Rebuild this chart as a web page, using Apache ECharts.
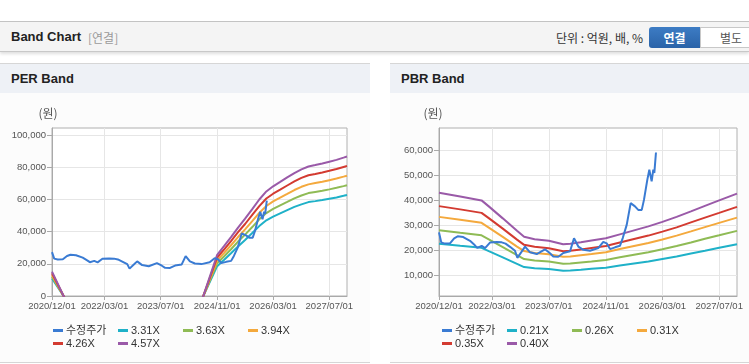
<!DOCTYPE html>
<html><head><meta charset="utf-8">
<script src="https://cdn.jsdelivr.net/npm/echarts@6/dist/echarts.min.js"></script>
<style>
html,body{margin:0;padding:0;width:749px;height:364px;overflow:hidden;background:#fff;font-family:"Liberation Sans","Noto Sans CJK KR",sans-serif;}
.abs{position:absolute;}
#topline{left:0;top:21px;width:749px;height:1px;background:#c4c4c4;}
#bar{left:0;top:22px;width:749px;height:29px;background:#f4f4f4;border-bottom:1px solid #c8c8c8;box-shadow:0 2px 3px rgba(0,0,0,0.13);}
#title{left:11px;top:29px;font-size:13px;font-weight:bold;color:#222;line-height:16px;}
#sub{left:88px;top:30px;font-size:12px;color:#9a9a9a;line-height:15px;font-family:"Noto Sans CJK KR",sans-serif;}
#unit{right:106px;top:30px;font-size:12px;color:#333;line-height:15px;font-family:"Noto Sans CJK KR",sans-serif;}
#btn1{left:649px;top:27px;width:51px;height:21px;background:linear-gradient(#3d7cc4,#2a63a8);border-radius:3px 0 0 3px;color:#fff;font-weight:bold;font-size:12px;line-height:21px;text-align:center;font-family:"Noto Sans CJK KR",sans-serif;}
#btn2{left:700px;top:27px;width:60px;height:19px;background:#fff;border:1px solid #c8c8c8;color:#555;font-size:12px;line-height:19px;text-align:center;font-family:"Noto Sans CJK KR",sans-serif;}
.panel{top:63px;height:298px;background:#fcfcfc;border-top:1px solid #d6d6d6;border-bottom:1px solid #d6d6d6;}
.phead{left:0;top:0;right:0;height:29px;background:#eef1f6;}
.ptitle{left:11px;top:7px;font-size:13px;font-weight:bold;color:#222;line-height:16px;}
#chart{left:0;top:0;width:749px;height:364px;}
</style>
</head><body>
<div id="topline" class="abs"></div>
<div id="bar" class="abs"></div>
<div id="title" class="abs">Band Chart</div>
<div id="sub" class="abs">[연결]</div>
<div id="unit" class="abs">단위 : 억원, 배, %</div>
<div id="btn1" class="abs">연결</div>
<div id="btn2" class="abs">별도</div>
<div class="abs panel" style="left:0;width:370px;"><div class="abs phead"></div><div class="abs ptitle">PER Band</div></div>
<div class="abs panel" style="left:390px;width:359px;"><div class="abs phead"></div><div class="abs ptitle">PBR Band</div></div>
<div id="chart" class="abs"></div>
<script>
// ---------- data ----------
const xMinDate = '2020-12-01';
const xMaxDate = '2027-12-01';
const xTickDates = ['2020-12-01','2022-03-01','2023-07-01','2024-11-01','2026-03-01','2027-07-01'];
const perYTicks = [0, 20000, 40000, 60000, 80000, 100000];
const pbrYTicks = [10000, 20000, 30000, 40000, 50000, 60000];

const priceDates = ['2020-12-01','2020-12-20','2021-01-20','2021-03-05','2021-04-10','2021-05-10','2021-06-27','2021-08-24','2021-10-05','2021-10-25','2021-12-02','2021-12-31','2022-02-11','2022-04-10','2022-05-23','2022-06-25','2022-08-02','2022-09-14','2022-10-04','2022-11-10','2022-12-09','2023-01-21','2023-03-19','2023-05-29','2023-07-11','2023-08-08','2023-09-20','2023-11-02','2023-12-30','2024-02-02','2024-03-10','2024-04-22','2024-06-18','2024-08-28','2024-10-10','2024-11-08','2024-12-07','2025-01-19','2025-03-02','2025-03-26','2025-04-29','2025-06-02','2025-07-09','2025-08-06','2025-09-05','2025-09-24','2025-10-23','2025-11-09','2025-11-29','2025-12-13','2025-12-22','2026-01-05'];
const priceValues = [27200,23200,22700,22800,24800,25600,25300,23800,22000,21000,21800,20900,23100,23300,23200,22700,21400,19800,17000,19500,21500,19200,18500,20400,18800,17500,17400,18900,19600,24800,21500,20200,19800,20900,23400,22800,20500,21200,21800,24900,30200,38900,37600,36200,36200,40200,48300,52300,47600,52300,51000,59200];

const perDates = ['2020-12-01','2021-12-01','2022-12-01','2023-12-01','2024-05-01','2024-11-01','2025-01-01','2025-03-01','2025-05-01','2025-07-01','2025-09-01','2025-11-01','2026-01-01','2026-03-01','2026-05-01','2026-07-01','2026-09-01','2026-11-01','2027-01-01','2027-03-01','2027-05-01','2027-07-01','2027-09-01','2027-11-01','2027-12-01'];
const per331 = [10900,-28800,-31400,-21500,-9900,18500,22500,26500,30800,34800,39100,43400,47000,49300,51300,53300,55300,56900,58300,58900,59600,60400,61200,62200,62700];
const per363 = [12000,-31600,-34500,-23600,-10900,20300,24700,29000,33800,38100,42800,47600,51500,54100,56300,58400,60600,62400,63900,64600,65300,66200,67200,68200,68800];
const per394 = [13000,-34300,-37400,-25600,-11800,22100,26800,31500,36600,41400,46500,51600,55900,58700,61100,63400,65800,67800,69300,70100,70900,71900,72900,74100,74700];
const per426 = [14100,-37100,-40500,-27700,-12800,23900,29000,34100,39600,44700,50300,55800,60500,63500,66000,68600,71100,73300,75000,75800,76700,77700,78800,80100,80700];
const per457 = [15100,-39800,-43400,-29700,-13700,25600,31100,36600,42500,48000,53900,59900,64900,68100,70800,73600,76300,78600,80400,81300,82300,83400,84500,85900,86600];

const pbrDates = ['2020-12-01','2021-06-01','2021-12-01','2022-02-01','2022-06-01','2022-10-01','2022-12-01','2023-03-01','2023-07-01','2023-11-01','2024-01-01','2024-04-01','2024-07-01','2024-11-01','2025-03-01','2025-07-01','2025-11-01','2026-03-01','2026-07-01','2026-11-01','2027-03-01','2027-07-01','2027-12-01'];
const pbr021 = [22600,21800,21000,19700,17200,14600,13300,12800,12500,11800,11900,12200,12600,13000,13900,14700,15500,16500,17500,18700,19800,21000,22400];
const pbr026 = [28000,27000,26000,24400,21300,18100,16500,15900,15500,14600,14700,15100,15500,16100,17200,18200,19200,20400,21700,23100,24600,26000,27800];
const pbr031 = [33400,32200,31000,29100,25400,21500,19700,18900,18400,17400,17500,18000,18500,19200,20500,21700,22900,24300,25900,27600,29300,31000,33100];
const pbr035 = [37700,36400,35000,32900,28700,24300,22200,21400,20800,19600,19800,20300,20900,21700,23100,24500,25900,27500,29200,31200,33100,35000,37400];
const pbr040 = [43100,41600,40000,37600,32800,27800,25400,24400,23800,22400,22600,23200,23900,24800,26400,28000,29600,31400,33400,35600,37800,40000,42700];

const perNames = ['3.31X','3.63X','3.94X','4.26X','4.57X'];
const pbrNames = ['0.21X','0.26X','0.31X','0.35X','0.40X'];
const priceName = '수정주가';

// ---------- styling ----------
const bandColors = ['#1fb1c8','#8fbb55','#f4a93d','#d33b31','#9a5aa8'];
const priceColor = '#3a7bd3';
const FONT = '"Liberation Sans","Noto Sans CJK KR",sans-serif';

function ts(s){ const p = s.split('-'); return Date.UTC(+p[0], +p[1]-1, +p[2]); }
function pad(n){ return (n<10?'0':'')+n; }
function fmtDate(v){ const d = new Date(v); return d.getUTCFullYear()+'/'+pad(d.getUTCMonth()+1)+'/'+pad(d.getUTCDate()); }
function fmtNum(v){ return String(Math.round(v)).replace(/\B(?=(\d{3})+(?!\d))/g, ','); }
function zip(dates, vals){ return dates.map((d,i)=>[ts(d), vals[i]]); }

const xTickVals = xTickDates.map(ts);

function xAxis(gi){
  return {
    type:'value', gridIndex:gi, min:ts(xMinDate), max:ts(xMaxDate), scale:true,
    axisLine:{show:true, onZero:false, lineStyle:{color:'#a9a9a9', width:1}},
    axisTick:{show:true, length:4, customValues:xTickVals, lineStyle:{color:'#a9a9a9'}},
    axisLabel:{customValues:xTickVals, formatter:fmtDate, fontSize:9.5, color:'#555', margin:6, fontFamily:FONT, hideOverlap:false},
    splitLine:{show:true, lineStyle:{color:'#e6e6e6', width:1}}
  };
}
function yAxis(gi, min, max, ticks, shift){
  return {
    type:'value', gridIndex:gi, min:min, max:max,
    name:'(원)', nameLocation:'end', nameGap:9,
    nameTextStyle:{color:'#555', fontSize:12, fontFamily:'"Noto Sans CJK KR",sans-serif', padding:[0, shift, 0, 0]},
    axisLine:{show:true, onZero:false, lineStyle:{color:'#a9a9a9', width:1}},
    axisTick:{show:true, length:5, customValues:ticks, lineStyle:{color:'#a9a9a9'}},
    axisLabel:{customValues:ticks, formatter:fmtNum, fontSize:9.5, color:'#555', margin:6, fontFamily:FONT},
    splitLine:{show:true, lineStyle:{color:'#e6e6e6', width:1}}
  };
}
function line(name, data, color, gi, z){
  return {type:'line', name:name, data:data, xAxisIndex:gi, yAxisIndex:gi,
    showSymbol:false, symbol:'none', clip:true, z:z||2,
    lineStyle:{color:color, width:2}, itemStyle:{color:color}, animation:false};
}
// one legend component per item so the items sit on a fixed 65px pitch
function legendRow(left0, top, names){
  return names.map((n,i)=>({left:left0 + i*65, top:top, orient:'horizontal', data:[n], icon:'rect',
    itemWidth:10, itemHeight:3, selectedMode:false, padding:0,
    textStyle:{fontSize:11, color:'#333', fontFamily:FONT, padding:[0,0,0,-2]}}));
}

const perBands = [per331, per363, per394, per426, per457];
const pbrBands = [pbr021, pbr026, pbr031, pbr035, pbr040];
const series = [];
perBands.forEach((b,i)=>series.push(line(perNames[i], zip(perDates,b), bandColors[i], 0)));
series.push(line(priceName, zip(priceDates, priceValues), priceColor, 0, 3));
pbrBands.forEach((b,i)=>series.push(line(pbrNames[i], zip(pbrDates,b), bandColors[i], 1)));
series.push(line(priceName, zip(priceDates, priceValues), priceColor, 1, 3));

const legends = [].concat(
  legendRow(53, 325, [priceName, perNames[0], perNames[1], perNames[2]]),
  legendRow(53, 338, [perNames[3], perNames[4]]),
  legendRow(442, 325, [priceName, pbrNames[0], pbrNames[1], pbrNames[2]]),
  legendRow(442, 338, [pbrNames[3], pbrNames[4]])
);

const chart = echarts.init(document.getElementById('chart'), null, {renderer:'canvas'});
chart.setOption({
  animation:false,
  backgroundColor:'transparent',
  grid:[
    {left:52, right:402, top:128, bottom:68, show:true, borderColor:'#b0b0b0', borderWidth:1, backgroundColor:'#fff', containLabel:false},
    {left:439, right:12, top:128, bottom:68, show:true, borderColor:'#b0b0b0', borderWidth:1, backgroundColor:'#fff', containLabel:false}
  ],
  xAxis:[xAxis(0), xAxis(1)],
  yAxis:[yAxis(0, 0, 104300, perYTicks, 8), yAxis(1, 1700, 69000, pbrYTicks, 12)],
  legend:legends,
  tooltip:{show:false},
  series:series
});
</script>
</body></html>
